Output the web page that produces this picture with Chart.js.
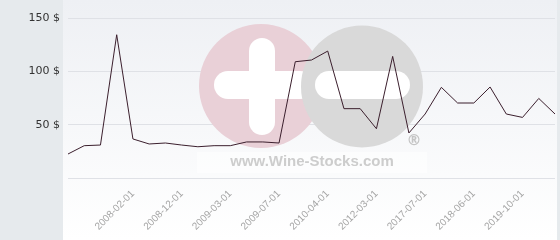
<!DOCTYPE html>
<html>
<head>
<meta charset="utf-8">
<script src="https://cdn.jsdelivr.net/npm/chart.js@4"></script>
<style>
  html, body { margin: 0; padding: 0; background: #e6eaed; }
  #wrap { width: 560px; height: 240px; }
</style>
</head>
<body>
<div id="wrap"><canvas id="grafico" width="560" height="240"></canvas></div>
<script>
// eixo x: só algumas datas aparecem no gráfico original
const dates = [
  '', '', '', '', '2008-02-01', '', '', '2008-12-01', '', '', '2009-03-01',
  '', '', '2009-07-01', '', '', '2010-04-01', '', '', '2012-03-01', '', '',
  '2017-07-01', '', '', '2018-06-01', '', '', '2019-10-01', '', ''
];

// preços
const prices = [
  22.5, 30.3, 30.9, 134.3, 36.6, 31.9, 32.8, 30.9, 29.3, 30.3, 30.3,
  33.8, 33.8, 32.8, 109, 110.6, 119, 65, 65, 46.2, 114, 42.2,
  60, 85, 70.3, 70.3, 85.3, 60, 56.8, 74.6, 60
];

const yTicks = [0, 50, 100, 150];

// fundo: painel cinza à esquerda, painel claro com degradê
const fundo = {
  id: 'fundo',
  beforeDraw(chart) {
    const ctx = chart.ctx;
    ctx.save();
    ctx.fillStyle = '#e6eaed';
    ctx.fillRect(0, 0, chart.width, chart.height);
    const g = ctx.createLinearGradient(0, 0, 0, chart.height);
    g.addColorStop(0, '#eef0f4');
    g.addColorStop(1, '#ffffff');
    ctx.fillStyle = g;
    ctx.fillRect(63, 0, 494, chart.height);
    ctx.restore();
  }
};

// marca d'água do site
const marca = {
  id: 'marca',
  beforeDatasetsDraw(chart) {
    const ctx = chart.ctx;
    ctx.save();
    ctx.fillStyle = 'rgba(255,255,255,0.55)';
    ctx.fillRect(197, 152, 230, 21);

    ctx.fillStyle = '#e9d0d7';
    ctx.beginPath();
    ctx.arc(261, 86, 62, 0, Math.PI * 2);
    ctx.fill();

    ctx.fillStyle = '#ffffff';
    ctx.beginPath();
    ctx.roundRect(249, 38, 26, 97, 13);
    ctx.fill();
    ctx.beginPath();
    ctx.roundRect(214, 71, 100, 28, 14);
    ctx.fill();

    ctx.fillStyle = '#d9d9d9';
    ctx.beginPath();
    ctx.arc(362, 86.5, 61, 0, Math.PI * 2);
    ctx.fill();

    ctx.fillStyle = '#ffffff';
    ctx.beginPath();
    ctx.roundRect(315, 71, 95, 28, 14);
    ctx.fill();

    ctx.fillStyle = '#cdcdcd';
    ctx.font = 'bold 15px "Liberation Sans", Arial, sans-serif';
    ctx.textAlign = 'center';
    ctx.textBaseline = 'alphabetic';
    ctx.fillText('www.Wine-Stocks.com', 312, 166);
    ctx.fillStyle = '#c4c4c4';
    ctx.font = 'bold 15px "DejaVu Sans", sans-serif';
    ctx.fillText('®', 414, 145);
    ctx.restore();
  }
};

const config = {
  type: 'line',
  data: {
    labels: dates,
    datasets: [{
      label: 'Preço',
      data: prices,
      borderColor: '#3b1f2d',
      borderWidth: 1,
      pointRadius: 0,
      tension: 0,
      fill: false
    }]
  },
  options: {
    responsive: false,
    animation: false,
    layout: { padding: { top: 18, right: 5, left: 0, bottom: 0 } },
    plugins: {
      legend: { display: false },
      tooltip: { enabled: false }
    },
    scales: {
      x: {
        offset: false,
        grid: { display: false, drawTicks: false },
        border: { display: false },
        ticks: {
          autoSkip: false,
          maxRotation: 45,
          minRotation: 45,
          padding: 10,
          color: '#a4a4a4',
          font: { family: '"Liberation Sans", Arial, sans-serif', size: 10 },
          callback: (v, i) => dates[i]
        },
        afterFit(scale) {
          scale.height = 62;
          scale.paddingLeft = 0;
          scale.paddingRight = 0;
        }
      },
      y: {
        min: 0,
        max: 150,
        afterBuildTicks(scale) { scale.ticks = yTicks.map(v => ({ value: v })); },
        grid: { color: '#dfe1e6', lineWidth: 1, drawTicks: false },
        border: { display: false },
        ticks: {
          padding: 8,
          color: '#333333',
          font: { family: '"DejaVu Sans", sans-serif', size: 11 },
          callback: v => v === 0 ? '' : v + ' $'
        },
        afterFit(scale) { scale.width = 68; }
      }
    }
  },
  plugins: [fundo, marca]
};

const grafico = new Chart(document.getElementById('grafico'), config);
</script>
</body>
</html>
